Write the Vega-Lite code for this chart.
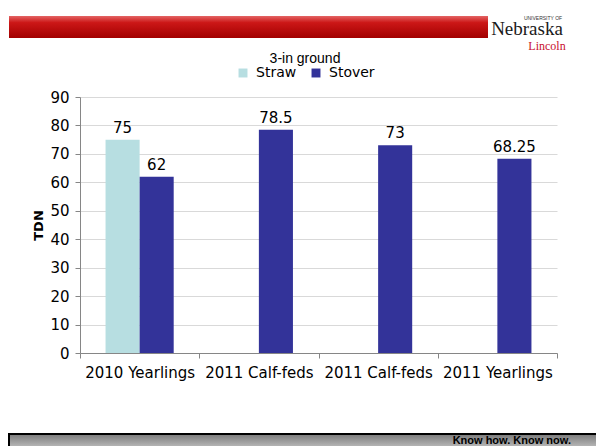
{
  "$schema": "https://vega.github.io/schema/vega-lite/v6.json",
  "background": "white",
  "padding": {"left": 8, "top": 16, "right": 0, "bottom": 0},
  "spacing": 0,
  "resolve": {"legend": {"color": "independent"}},
  "config": {"view": {"stroke": null}, "font": "DejaVu Sans", "concat": {"spacing": 0}},
  "vconcat": [
    {
      "spacing": 0,
      "hconcat": [
        {
          "width": 479,
          "height": 22,
          "view": {"stroke": null, "fill": {"gradient": "linear", "x1": 0, "y1": 0, "x2": 0, "y2": 1, "stops": [{"offset": 0, "color": "#e36464"}, {"offset": 0.3, "color": "#cc1717"}, {"offset": 1, "color": "#a20000"}]}},
          "data": {"values": []},
          "mark": "point",
          "encoding": {}
        },
        {
          "width": 78,
          "height": 36,
          "data": {"values": [{"brand": "Nebraska", "campus": "Lincoln", "header": "UNIVERSITY OF"}]},
          "layer": [
            {"mark": {"type": "text", "font": "Liberation Serif", "fontSize": 19, "color": "#1a1a1a", "baseline": "alphabetic", "align": "center", "dy": 1}, "encoding": {"text": {"field": "brand"}}},
            {"mark": {"type": "text", "font": "Liberation Serif", "fontSize": 12, "color": "#c8102e", "baseline": "alphabetic", "align": "center", "dx": 20, "dy": 16}, "encoding": {"text": {"field": "campus"}}},
            {"mark": {"type": "text", "font": "Liberation Sans", "fontSize": 5, "color": "#333", "baseline": "alphabetic", "align": "center", "dx": 16, "dy": -14}, "encoding": {"text": {"field": "header"}}}
          ]
        }
      ]
    },
    {
      "spacing": 0,
      "resolve": {"legend": {"color": "independent"}},
      "hconcat": [
        {
          "width": 1,
          "height": 1,
          "data": {"values": []},
          "mark": "point",
          "encoding": {}
        },
        {
          "width": 477,
          "height": 256,
          "data": {"values": [
            {"slot": 1, "group": "2010 Yearlings", "residue": "Straw", "tdn": 75},
            {"slot": 1, "group": "2010 Yearlings", "residue": "Stover", "tdn": 62},
            {"slot": 2, "group": "2011 Calf-feds", "residue": "Stover", "tdn": 78.5},
            {"slot": 3, "group": "2011 Calf-feds", "residue": "Stover", "tdn": 73},
            {"slot": 4, "group": "2011 Yearlings", "residue": "Stover", "tdn": 68.25}
          ]},
          "encoding": {
            "x": {
              "field": "slot", "type": "ordinal",
              "scale": {"domain": [1, 2, 3, 4], "paddingInner": 0, "paddingOuter": 0},
              "axis": {
                "title": null, "labelAngle": 0, "tickBand": "extent",
                "labelExpr": "['', '2010 Yearlings', '2011 Calf-feds', '2011 Calf-feds', '2011 Yearlings'][datum.value]",
                "labelFontSize": 15, "labelColor": "#000", "labelPadding": 7,
                "domainColor": "#868686", "tickColor": "#868686", "tickSize": 5,
                "minExtent": 80, "grid": false
              }
            },
            "xOffset": {"field": "residue", "type": "nominal", "scale": {"domain": ["Straw", "Stover"], "paddingOuter": 0.75, "paddingInner": 0}},
            "y": {
              "field": "tdn", "type": "quantitative",
              "scale": {"domain": [0, 90], "nice": false},
              "axis": {
                "title": ["", "TDN"], "titleLineHeight": 22, "titleFontSize": 13, "titleFontWeight": "bold", "titleColor": "#000", "titlePadding": 4,
                "values": [0, 10, 20, 30, 40, 50, 60, 70, 80, 90],
                "labelFontSize": 15, "labelColor": "#000", "labelPadding": 6,
                "domainColor": "#868686", "tickColor": "#868686", "tickSize": 5,
                "gridColor": "#d9d9d9"
              }
            }
          },
          "layer": [
            {
              "mark": {"type": "bar"},
              "encoding": {
                "color": {
                  "field": "residue", "type": "nominal",
                  "scale": {"domain": ["Straw", "Stover"], "range": ["#b7dee1", "#333399"]},
                  "legend": {
                    "orient": "none", "legendX": 156, "legendY": -45, "direction": "horizontal", "title": "3-in ground",
                    "titleAnchor": "middle", "titleFont": "Liberation Sans", "titleFontSize": 14, "titleFontWeight": "normal", "titleColor": "#000",
                    "titlePadding": 0, "labelFontSize": 14, "labelColor": "#000", "labelOffset": 6,
                    "symbolType": "square", "symbolSize": 80, "symbolStrokeWidth": 0, "columnPadding": 12
                  }
                }
              }
            },
            {
              "mark": {"type": "text", "baseline": "alphabetic", "dy": -7, "fontSize": 15, "color": "#000"},
              "encoding": {"text": {"field": "tdn", "type": "quantitative"}}
            }
          ]
        }
      ]
    },
    {
      "width": 588,
      "height": 14,
      "view": {"stroke": "#000", "strokeWidth": 2, "fill": {"gradient": "linear", "x1": 0, "y1": 0, "x2": 0, "y2": 1, "stops": [{"offset": 0, "color": "#7a7a7a"}, {"offset": 1, "color": "#bdbdbd"}]}},
      "data": {"values": []},
      "mark": "point",
      "encoding": {},
      "title": {"text": "Know how. Know now.", "orient": "top", "anchor": "end", "offset": -12, "dx": -26, "font": "Liberation Sans", "fontSize": 11, "fontWeight": "bold", "color": "#000"}
    }
  ]
}
